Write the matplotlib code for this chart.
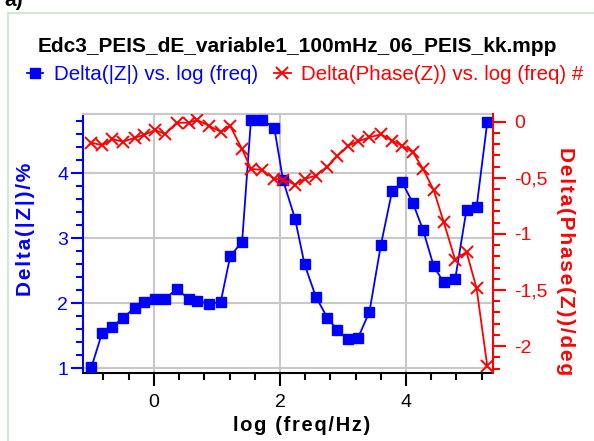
import matplotlib
matplotlib.use("Agg")
import matplotlib.pyplot as plt
from matplotlib.ticker import MultipleLocator, FuncFormatter
from matplotlib.lines import Line2D
from matplotlib.patches import Rectangle

plt.rcParams["font.family"] = ["Liberation Sans", "DejaVu Sans"]

# log(freq/Hz)
log_freq = [-0.99, -0.82, -0.66, -0.49, -0.30, -0.15, 0.02, 0.18, 0.36, 0.55,
            0.69, 0.88, 1.06, 1.21, 1.40, 1.54, 1.72, 1.91, 2.05, 2.24,
            2.39, 2.57, 2.75, 2.91, 3.08, 3.24, 3.42, 3.60, 3.78, 3.94,
            4.11, 4.27, 4.44, 4.60, 4.78, 4.96, 5.12, 5.29]
# Delta(|Z|) in %
delta_z = [1.02, 1.55, 1.635, 1.78, 1.93, 2.02, 2.07, 2.07, 2.22, 2.07,
           2.04, 1.99, 2.02, 2.72, 2.95, 4.82, 4.82, 4.70, 3.89, 3.30,
           2.60, 2.10, 1.78, 1.59, 1.45, 1.47, 1.87, 2.89, 3.73, 3.86,
           3.54, 3.13, 2.57, 2.32, 2.37, 3.44, 3.48, 4.79]
# Delta(Phase(Z)) in deg
delta_phase = [-0.187, -0.21, -0.154, -0.178, -0.142, -0.116, -0.074, -0.11, -0.009, -0.009,
               0.015, -0.038, -0.089, -0.036, -0.246, -0.42, -0.43, -0.51, -0.515, -0.56,
               -0.51, -0.48, -0.40, -0.306, -0.214, -0.175, -0.139, -0.112, -0.169, -0.214,
               -0.273, -0.42, -0.61, -0.897, -1.23, -1.16, -1.485, -2.18]

title = "Edc3_PEIS_dE_variable1_100mHz_06_PEIS_kk.mpp"
label_z = "Delta(|Z|) vs. log (freq)"
label_phase = "Delta(Phase(Z)) vs. log (freq) #"


def spaced(s, sep="\u200a"):
    # the original axis labels are drawn with some letter spacing
    return sep.join(s)


blue = "#0000FF"
red = "#FF0000"
W, H = 594, 441

fig = plt.figure(figsize=(W / 100, H / 100), dpi=100)
ax = fig.add_axes([83.3 / W, 1 - 372.7 / H, (493.3 - 83.3) / W, (372.7 - 114) / H])
ax2 = ax.twinx()

# frame around the panel
fig.patches.append(Rectangle((8 / W, -0.1), 1.2, 1 - 13 / H + 0.1, transform=fig.transFigure,
                             fill=False, edgecolor="#c6e6c6", linewidth=1.2))
fig.text(4 / W, 1 - 6 / H, "a)", fontsize=15, fontweight="bold", va="baseline", ha="left")

ax.grid(True, color="#c8c8c8", linewidth=1.5, zorder=0)
ax.axvline(0, color="#FF8000", linewidth=1.3, zorder=1)

ax.plot(log_freq, delta_z, color=blue, marker="s", markersize=7, linewidth=1.3, zorder=3)
ax2.plot(log_freq, delta_phase, color=red, marker="x", markersize=9, markeredgewidth=1.4,
         linewidth=1.3, zorder=3)

ax.set_xlim(-1.12, 5.385)
ax.set_ylim(0.932, 4.912)
ax2.set_ylim(-2.237, 0.069)

ax.xaxis.set_major_locator(MultipleLocator(2))
ax.xaxis.set_minor_locator(MultipleLocator(0.4))
ax.yaxis.set_major_locator(MultipleLocator(1))
ax.yaxis.set_minor_locator(MultipleLocator(0.2))
ax2.yaxis.set_major_locator(MultipleLocator(0.5))
ax2.yaxis.set_minor_locator(MultipleLocator(0.1))
ax2.yaxis.set_major_formatter(FuncFormatter(lambda v, p: ("%g" % v).replace(".", ",")))

for a in (ax, ax2):
    for s in a.spines.values():
        s.set_linewidth(1.5)
ax.spines["left"].set_color(blue)
ax.spines["bottom"].set_color("black")
ax.spines["top"].set_color("#c8c8c8")
ax.spines["right"].set_visible(False)
ax2.spines["right"].set_color(red)
ax2.spines["left"].set_visible(False)
ax2.spines["top"].set_visible(False)
ax2.spines["bottom"].set_visible(False)

ax.tick_params(axis="x", which="major", length=9, width=1.5, labelsize=14, pad=6)
ax.tick_params(axis="x", which="minor", length=5, width=1.5)
ax.tick_params(axis="y", which="major", length=9, width=1.5, colors=blue, labelsize=14, pad=2)
ax.tick_params(axis="y", which="minor", length=5, width=1.5, colors=blue)
ax2.tick_params(axis="y", which="major", length=9, width=1.5, colors=red, labelsize=14, pad=6)
ax2.tick_params(axis="y", which="minor", length=5, width=1.5, colors=red)

ax.set_xlabel(spaced("log (freq/Hz)"), fontsize=14.5, fontweight="bold", va="center")
ax.set_ylabel(spaced("Delta(|Z|)/%"), fontsize=15, fontweight="bold", color=blue)
ax2.set_ylabel(spaced("Delta(Phase(Z))/deg"), fontsize=15, fontweight="bold", color=red,
               rotation=270, va="center")
ax.xaxis.set_label_coords(0.533, -0.206)
ax.yaxis.set_label_coords(-48 / 410, 0.553)
ax2.yaxis.set_label_coords(1 + 72 / 410, 0.43)

fig.text(297 / W, 1 - 47 / H, title, fontsize=15, fontweight="bold", ha="center", va="center")

handles = [Line2D([], [], color=blue, marker="s", markersize=7, linewidth=1.3),
           Line2D([], [], color=red, marker="x", markersize=9, markeredgewidth=1.4, linewidth=1.3)]
leg = fig.legend(handles, [label_z, label_phase], ncol=2, loc="center", bbox_to_anchor=(305 / W, 1 - 75 / H),
                 frameon=False, fontsize=14.8, handlelength=0.8, handletextpad=0.5, columnspacing=0.8,
                 borderaxespad=0)
leg.get_texts()[0].set_color(blue)
leg.get_texts()[1].set_color(red)

fig.savefig("out.png", dpi=100)
